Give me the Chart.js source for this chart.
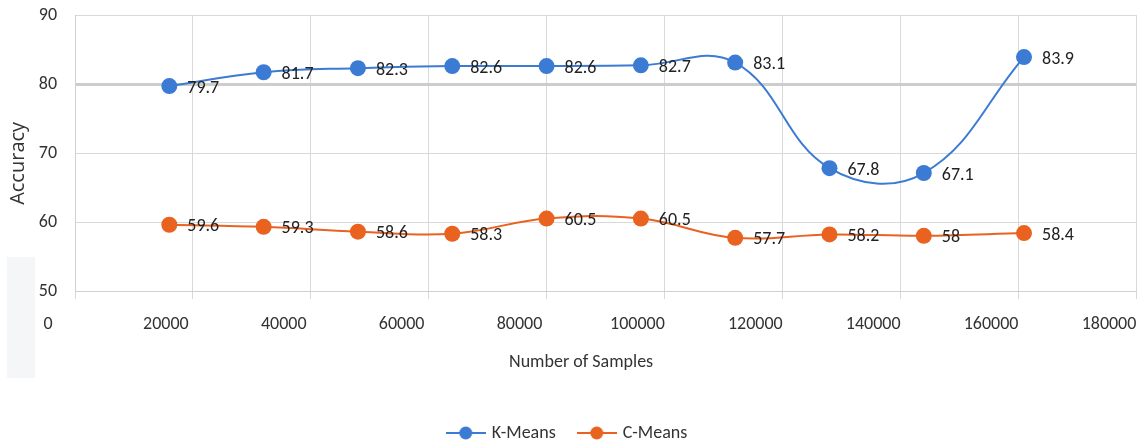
<!DOCTYPE html>
<html>
<head>
<meta charset="utf-8">
<script src="https://cdn.jsdelivr.net/npm/chart.js@4.4.1/dist/chart.umd.min.js"></script>
<style>
  html, body { margin: 0; padding: 0; background: #fff; }
  #wrap { position: relative; width: 1144px; height: 448px; }
  #patch { position: absolute; left: 7px; top: 257px; width: 28px; height: 121px; background: #f5f6f8; }
  canvas { position: absolute; left: 0; top: 0; }
</style>
</head>
<body>
<div id="wrap"><div id="patch"></div><canvas id="chart" width="1144" height="448"></canvas></div>
<script>
// values
const samples = [16000, 32000, 48000, 64000, 80000, 96000, 112000, 128000, 144000, 161000];
const kMeans = [79.7, 81.7, 82.3, 82.6, 82.6, 82.7, 83.1, 67.8, 67.1, 83.9];
const cMeans = [59.6, 59.3, 58.6, 58.3, 60.5, 60.5, 57.7, 58.2, 58, 58.4];
const seriesNames = ['K-Means', 'C-Means'];
const seriesColors = ['#3b7bd4', '#e9621f'];

const calibri = 'Carlito, "Liberation Sans", sans-serif';
const textColor = '#333333';

// legend marker: short line with a dot on it
function makeMarker(color) {
    const c = document.createElement('canvas');
    c.width = 40; c.height = 16;
    const g = c.getContext('2d');
    g.strokeStyle = color;
    g.lineWidth = 2;
    g.beginPath(); g.moveTo(0, 8); g.lineTo(40, 8); g.stroke();
    g.fillStyle = color;
    g.beginPath(); g.arc(20, 8, 6.5, 0, Math.PI * 2); g.fill();
    return c;
}
const markers = seriesColors.map(makeMarker);

const valueLabels = {
    id: 'valueLabels',
    afterDatasetsDraw(chart) {
        const ctx = chart.ctx;
        ctx.save();
        ctx.font = '18px ' + calibri;
        ctx.fillStyle = '#222';
        ctx.textAlign = 'left';
        ctx.textBaseline = 'middle';
        chart.data.datasets.forEach((ds, i) => {
            chart.getDatasetMeta(i).data.forEach((pt, j) => {
                ctx.fillText(String(ds.data[j].y), pt.x + 18, pt.y + 2);
            });
        });
        ctx.restore();
    }
};

// nudge the legend a little lower than the layout puts it
const legendShift = {
    id: 'legendShift',
    afterLayout(chart) {
        chart.legend.top += 4;
        chart.legend.bottom += 4;
    }
};

function toPoints(values) {
    return values.map((v, i) => ({ x: samples[i], y: v }));
}

new Chart(document.getElementById('chart'), {
    type: 'line',
    data: {
        datasets: [kMeans, cMeans].map((vals, i) => ({
            label: seriesNames[i],
            data: toPoints(vals),
            borderColor: seriesColors[i],
            backgroundColor: seriesColors[i],
            borderWidth: 2,
            pointRadius: 8,
            pointHoverRadius: 8,
            pointBorderWidth: 0,
            tension: 0.4
        }))
    },
    options: {
        responsive: false,
        animation: false,
        layout: { padding: { top: 15, right: 8, left: 0, bottom: 0 } },
        plugins: {
            tooltip: { enabled: false },
            legend: {
                position: 'bottom',
                labels: {
                    usePointStyle: true,
                    pointStyleWidth: 34,
                    padding: 24,
                    color: textColor,
                    font: { family: calibri, size: 18 },
                    generateLabels(chart) {
                        const items = Chart.defaults.plugins.legend.labels.generateLabels(chart);
                        items.forEach((it, i) => { it.pointStyle = markers[i]; });
                        return items;
                    }
                }
            }
        },
        scales: {
            x: {
                type: 'linear',
                min: 0,
                max: 180000,
                ticks: {
                    stepSize: 20000,
                    labelOffset: -27,
                    padding: 15,
                    maxRotation: 0,
                    color: textColor,
                    font: { family: calibri, size: 18 },
                    callback: v => String(v)
                },
                grid: { color: '#d9d9d9', tickLength: 8 },
                border: { color: '#d0d0d0' },
                title: {
                    display: true,
                    // trailing spaces pull the centred title a bit to the left, as in the original
                    text: 'Number of Samples'.padEnd(29, ' '),
                    color: textColor,
                    font: { family: calibri, size: 18 },
                    padding: { top: 0, bottom: 23 }
                },
                afterFit(scale) {
                    scale.height = 105;
                    scale.paddingLeft = 0;
                    scale.paddingRight = 0;
                }
            },
            y: {
                min: 50,
                max: 90,
                ticks: {
                    stepSize: 10,
                    padding: 18,
                    color: textColor,
                    font: { family: calibri, size: 18 }
                },
                grid: {
                    drawTicks: false,
                    color: ctx => ctx.tick && ctx.tick.value === 80 ? '#cdcdcd' : '#d9d9d9',
                    lineWidth: ctx => ctx.tick && ctx.tick.value === 80 ? 3 : 1
                },
                border: { color: '#d0d0d0' },
                title: {
                    display: true,
                    text: 'Accuracy'.padEnd(12, ' '),
                    color: textColor,
                    font: { family: '"Open Sans", sans-serif', size: 20 },
                    padding: { top: 6, bottom: 0 }
                },
                afterFit(scale) {
                    scale.width = 75;
                    scale.paddingTop = 0;
                    scale.paddingBottom = 0;
                }
            }
        }
    },
    plugins: [valueLabels, legendShift]
});
</script>
</body>
</html>
